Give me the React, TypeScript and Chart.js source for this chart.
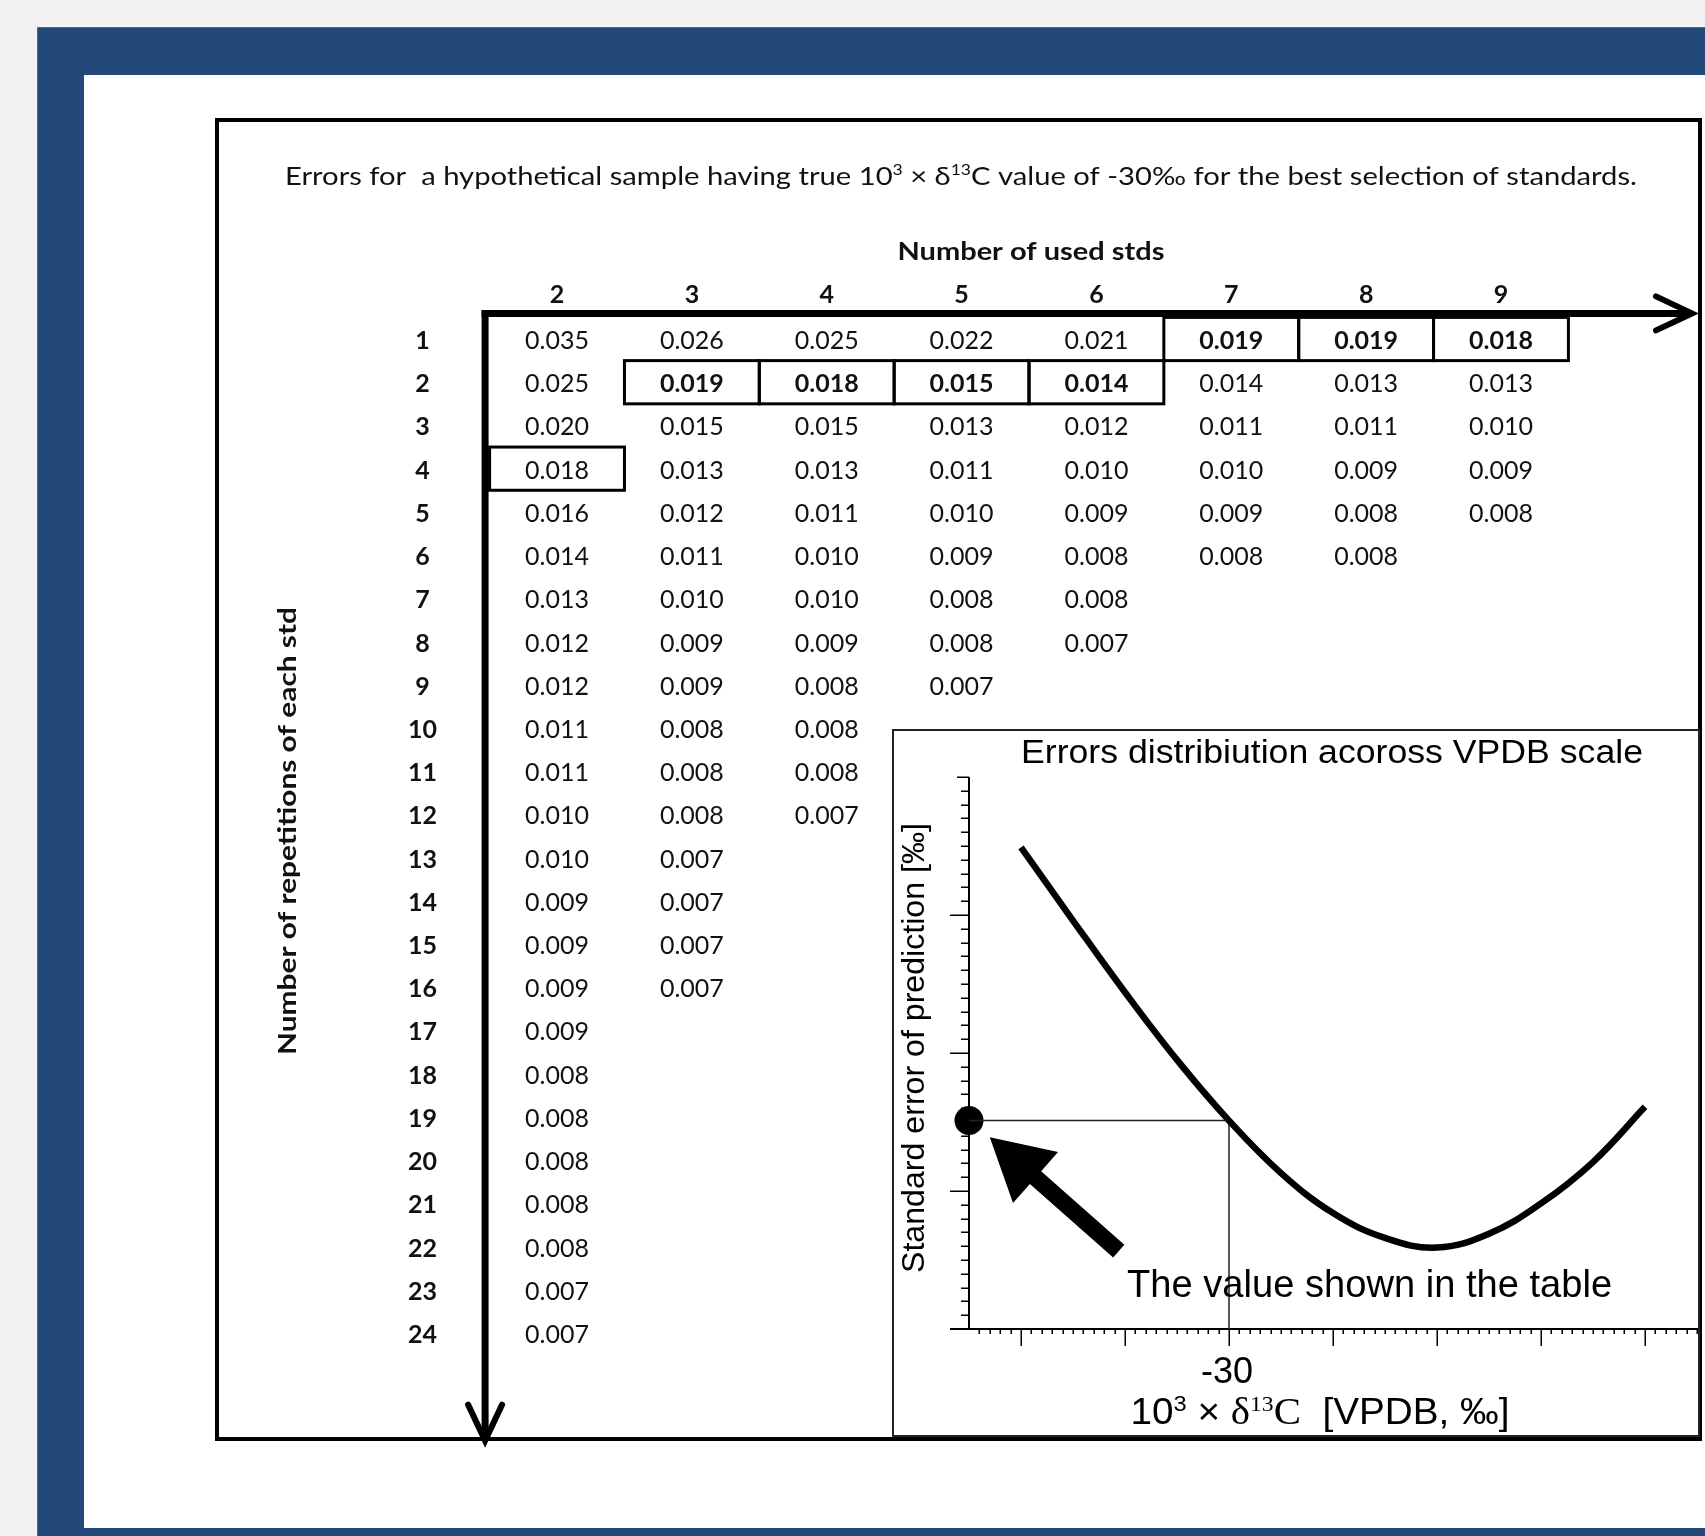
import React, { useEffect, useRef } from "react";
import { Chart, registerables } from "chart.js";

Chart.register(...registerables);

// ---------------- Table data ----------------
const stdCounts = [2, 3, 4, 5, 6, 7, 8, 9];
const repetitions = [1, 2, 3, 4, 5, 6, 7, 8, 9, 10, 11, 12, 13, 14, 15, 16, 17, 18, 19, 20, 21, 22, 23, 24];
const errors2 = [0.035, 0.025, 0.020, 0.018, 0.016, 0.014, 0.013, 0.012, 0.012, 0.011, 0.011, 0.010, 0.010, 0.009, 0.009, 0.009, 0.009, 0.008, 0.008, 0.008, 0.008, 0.008, 0.007, 0.007];
const errors3 = [0.026, 0.019, 0.015, 0.013, 0.012, 0.011, 0.010, 0.009, 0.009, 0.008, 0.008, 0.008, 0.007, 0.007, 0.007, 0.007];
const errors4 = [0.025, 0.018, 0.015, 0.013, 0.011, 0.010, 0.010, 0.009, 0.008, 0.008, 0.008, 0.007];
const errors5 = [0.022, 0.015, 0.013, 0.011, 0.010, 0.009, 0.008, 0.008, 0.007];
const errors6 = [0.021, 0.014, 0.012, 0.010, 0.009, 0.008, 0.008, 0.007];
const errors7 = [0.019, 0.014, 0.011, 0.010, 0.009, 0.008];
const errors8 = [0.019, 0.013, 0.011, 0.009, 0.008, 0.008];
const errors9 = [0.018, 0.013, 0.010, 0.009, 0.008];
const errorColumns = [errors2, errors3, errors4, errors5, errors6, errors7, errors8, errors9];
// best selection of standards: [number of stds, repetitions] -> bold + boxed
const bestCells = [[7, 1], [8, 1], [9, 1], [3, 2], [4, 2], [5, 2], [6, 2]];
// boxed only
const markedCells = [[2, 4]];

// ---------------- Inset data ----------------
const vpdbValues = [-50, -45, -40, -35, -30, -25, -20, -15, -10, -5, 0, 5, 10];
const predictionErrors = [3.49, 2.96, 2.44, 1.95, 1.51, 1.13, 0.84, 0.66, 0.59, 0.69, 0.91, 1.21, 1.61];
const sampleValue = -30;
const labelledXTicks = [-30];

const TABLE_TITLE_A = "Errors for  a hypothetical sample having true 10";
const TABLE_TITLE_B = "C value of -30‰ for the best selection of standards.";
const INSET_TITLE = "Errors distribiution acoross VPDB scale";
const INSET_Y_TITLE = "Standard error of prediction [‰]";
const INSET_NOTE = "The value shown in the table";

const LATO = "Lato, 'Noto Sans', sans-serif";
const SANS = "'Liberation Sans', Arial, sans-serif";
const SERIF = "'Liberation Serif', 'Times New Roman', serif";
const INK = "#111111";

type Seg = { t: string; f: string; dy?: number };

function drawRich(ctx: CanvasRenderingContext2D, segs: Seg[], x: number, y: number, align: "left" | "center", targetW?: number) {
  let w = 0;
  for (const s of segs) {
    ctx.font = s.f;
    w += ctx.measureText(s.t).width;
  }
  const sx = targetW ? targetW / w : 1;
  ctx.save();
  ctx.translate(x, y);
  ctx.scale(sx, 1);
  ctx.textAlign = "left";
  ctx.textBaseline = "alphabetic";
  let cx = align === "center" ? -w / 2 : 0;
  for (const s of segs) {
    ctx.font = s.f;
    ctx.fillText(s.t, cx, s.dy || 0);
    cx += ctx.measureText(s.t).width;
  }
  ctx.restore();
}

const tablePlugin = {
  id: "tableDecor",
  afterDatasetsDraw(chart: any) {
    const { ctx, chartArea: a, scales } = chart;
    const px = (c: number) => scales.x.getPixelForValue(c);
    const py = (r: number) => scales.y.getPixelForValue(r);
    ctx.save();
    ctx.fillStyle = INK;

    // title
    drawRich(
      ctx,
      [
        { t: TABLE_TITLE_A, f: `25px ${LATO}` },
        { t: "3", f: `15px ${LATO}`, dy: -10 },
        { t: " × δ", f: `25px ${LATO}` },
        { t: "13", f: `15px ${LATO}`, dy: -10 },
        { t: TABLE_TITLE_B, f: `25px ${LATO}` },
      ],
      285, 185, "left", 1352
    );

    // column header
    drawRich(ctx, [{ t: "Number of used stds", f: `bold 25px ${LATO}` }], px(5.5) + 2, 260, "center", 267);
    stdCounts.forEach((c) => drawRich(ctx, [{ t: String(c), f: `bold 25px ${LATO}` }], px(c), 303, "center"));
    repetitions.forEach((r) => drawRich(ctx, [{ t: String(r), f: `bold 25px ${LATO}` }], a.left - 67, py(r) + 10, "center"));

    // rotated row header
    ctx.save();
    ctx.translate(296, 831);
    ctx.rotate(-Math.PI / 2);
    drawRich(ctx, [{ t: "Number of repetitions of each std", f: `bold 25px ${LATO}` }], 0, 0, "center", 448);
    ctx.restore();

    // cell values
    chart.data.datasets.forEach((ds: any, di: number) => {
      const meta = chart.getDatasetMeta(di);
      meta.data.forEach((pt: any, i: number) => {
        const raw = ds.data[i];
        const bold = bestCells.some(([c, r]) => c === raw.x && r === raw.y);
        drawRich(ctx, [{ t: raw.v.toFixed(3), f: `${bold ? "bold " : ""}25px ${LATO}` }], pt.x, pt.y + 10, "center");
      });
    });

    // boxes
    ctx.strokeStyle = "#000";
    ctx.lineWidth = 3;
    [...bestCells, ...markedCells].forEach(([c, r]) => {
      const x0 = px(c - 0.5), x1 = px(c + 0.5), y0 = py(r - 0.5), y1 = py(r + 0.5);
      ctx.strokeRect(x0, y0, x1 - x0, y1 - y0);
    });

    // axis arrows
    const hy = a.top - 4;
    const vx = a.left - 4.5;
    const tipX = a.right + 123.6;
    const tipY = a.bottom + 86;
    ctx.lineWidth = 7;
    ctx.lineCap = "butt";
    ctx.beginPath();
    ctx.moveTo(vx - 3.5, hy);
    ctx.lineTo(tipX - 3, hy);
    ctx.stroke();
    ctx.beginPath();
    ctx.moveTo(vx, hy - 3.5);
    ctx.lineTo(vx, tipY - 3);
    ctx.stroke();
    ctx.lineWidth = 6;
    ctx.lineCap = "round";
    ctx.lineJoin = "miter";
    ctx.beginPath();
    ctx.moveTo(tipX - 36, hy - 17);
    ctx.lineTo(tipX, hy);
    ctx.lineTo(tipX - 36, hy + 17);
    ctx.stroke();
    ctx.beginPath();
    ctx.moveTo(vx - 17, tipY - 36);
    ctx.lineTo(vx, tipY);
    ctx.lineTo(vx + 17, tipY - 36);
    ctx.stroke();
    ctx.restore();
  },
};

const insetPlugin = {
  id: "insetDecor",
  beforeDraw(chart: any) {
    const { ctx, width, height } = chart;
    ctx.save();
    ctx.fillStyle = "#fff";
    ctx.fillRect(0, 0, width, height);
    ctx.strokeStyle = "#222";
    ctx.lineWidth = 2;
    ctx.strokeRect(1, 1, width - 2, height - 2);
    ctx.restore();
  },
  beforeDatasetsDraw(chart: any) {
    const { ctx, chartArea: a, scales, width } = chart;
    const xs = scales.x, ys = scales.y;
    ctx.save();
    ctx.strokeStyle = "#000";
    // axes
    ctx.lineWidth = 2;
    ctx.beginPath();
    ctx.moveTo(a.left, a.top);
    ctx.lineTo(a.left, a.bottom);
    ctx.moveTo(a.left - 19, a.bottom);
    ctx.lineTo(width - 2, a.bottom);
    ctx.stroke();
    // y ticks
    ctx.lineWidth = 1.5;
    ctx.beginPath();
    for (let k = 1; k <= 40; k++) {
      const y = Math.round(ys.getPixelForValue(k / 10)) + 0.25;
      const len = k === 40 ? 12 : k % 10 === 0 ? 19 : 8;
      ctx.moveTo(a.left, y);
      ctx.lineTo(a.left - len, y);
    }
    // x ticks
    for (let k = Math.ceil(xs.min) + 1; k <= xs.max; k++) {
      const x = Math.round(xs.getPixelForValue(k)) + 0.25;
      const len = k % 10 === 0 ? 17 : 5;
      ctx.moveTo(x, a.bottom);
      ctx.lineTo(x, a.bottom + len);
    }
    ctx.stroke();
    ctx.restore();
  },
  afterDraw(chart: any) {
    const { ctx, chartArea: a, scales } = chart;
    const xs = scales.x, ys = scales.y;
    ctx.save();
    ctx.fillStyle = "#000";

    drawRich(ctx, [{ t: INSET_TITLE, f: `33px ${SANS}` }], 440, 34, "center", 622);

    ctx.save();
    ctx.translate(31.5, 319);
    ctx.rotate(-Math.PI / 2);
    drawRich(ctx, [{ t: INSET_Y_TITLE, f: `31px ${SANS}` }], 0, 0, "center", 450);
    ctx.restore();

    labelledXTicks.forEach((v) => {
      drawRich(ctx, [{ t: String(v), f: `36px ${SANS}` }], xs.getPixelForValue(v) - 2, a.bottom + 54, "center");
    });

    drawRich(
      ctx,
      [
        { t: "10", f: `36px ${SANS}` },
        { t: "3", f: `22px ${SANS}`, dy: -13 },
        { t: " × ", f: `36px ${SANS}` },
        { t: "δ", f: `38px ${SERIF}` },
        { t: "13", f: `22px ${SERIF}`, dy: -13 },
        { t: "C", f: `38px ${SERIF}` },
        { t: "  [VPDB, ‰]", f: `36px ${SANS}` },
      ],
      428, 695, "center", 379
    );

    // pointer arrow (in data units)
    const T = { x: xs.getPixelForValue(-53.0), y: ys.getPixelForValue(1.39) };
    const B = { x: xs.getPixelForValue(-40.6), y: ys.getPixelForValue(0.565) };
    const dx = T.x - B.x, dy = T.y - B.y;
    const len = Math.hypot(dx, dy);
    const ux = dx / len, uy = dy / len;
    const nx = -uy, ny = ux;
    const headL = 61, headW = 34, shaftW = 8.5;
    const H = { x: T.x - ux * headL, y: T.y - uy * headL };
    ctx.beginPath();
    ctx.moveTo(B.x + nx * shaftW, B.y + ny * shaftW);
    ctx.lineTo(H.x + nx * shaftW, H.y + ny * shaftW);
    ctx.lineTo(H.x + nx * headW, H.y + ny * headW);
    ctx.lineTo(T.x, T.y);
    ctx.lineTo(H.x - nx * headW, H.y - ny * headW);
    ctx.lineTo(H.x - nx * shaftW, H.y - ny * shaftW);
    ctx.lineTo(B.x - nx * shaftW, B.y - ny * shaftW);
    ctx.closePath();
    ctx.fill();

    drawRich(ctx, [{ t: INSET_NOTE, f: `39px ${SANS}` }], xs.getPixelForValue(-39.8), ys.getPixelForValue(0.232), "left", 485);
    ctx.restore();
  },
};

export default function App() {
  const tableRef = useRef<HTMLCanvasElement>(null);
  const insetRef = useRef<HTMLCanvasElement>(null);

  useEffect(() => {
    const tableChart = new Chart(tableRef.current as HTMLCanvasElement, {
      type: "scatter",
      data: {
        datasets: stdCounts.map((c, ci) => ({
          data: errorColumns[ci].map((v, ri) => ({ x: c, y: repetitions[ri], v })),
          pointRadius: 0,
          showLine: false,
          borderWidth: 0,
        })),
      },
      options: {
        animation: false,
        responsive: false,
        devicePixelRatio: 1,
        events: [],
        layout: { autoPadding: false, padding: { left: 489.6, right: 136.6, top: 317.4, bottom: 181.4 } },
        scales: {
          x: { type: "linear", min: 1.5, max: 9.5, display: false },
          y: { type: "linear", min: 0.5, max: 24.5, reverse: true, display: false },
        },
        plugins: { legend: { display: false }, tooltip: { enabled: false } },
      } as any,
      plugins: [tablePlugin as any],
    });

    const sampleErr = predictionErrors[vpdbValues.indexOf(sampleValue)];
    const insetChart = new Chart(insetRef.current as HTMLCanvasElement, {
      type: "scatter",
      data: {
        datasets: [
          {
            data: vpdbValues.map((x, i) => ({ x, y: predictionErrors[i] })),
            showLine: true,
            borderColor: "#000",
            borderWidth: 6.5,
            pointRadius: 0,
            tension: 0.4,
          },
          {
            data: [
              { x: -55, y: sampleErr },
              { x: sampleValue, y: sampleErr },
              { x: sampleValue, y: 0 },
            ],
            showLine: true,
            borderColor: "#222",
            borderWidth: 1.5,
            pointRadius: 0,
            tension: 0,
          },
          {
            data: [{ x: -55, y: sampleErr }],
            showLine: false,
            pointRadius: 14.5,
            pointBackgroundColor: "#000",
            pointBorderWidth: 0,
            clip: false,
          },
        ],
      } as any,
      options: {
        animation: false,
        responsive: false,
        devicePixelRatio: 1,
        events: [],
        layout: { autoPadding: false, padding: { left: 77, right: 3, top: 48, bottom: 108 } },
        scales: {
          x: { type: "linear", min: -55, max: 15, display: false },
          y: { type: "linear", min: 0, max: 4, display: false },
        },
        plugins: { legend: { display: false }, tooltip: { enabled: false } },
      } as any,
      plugins: [insetPlugin as any],
    });

    return () => {
      tableChart.destroy();
      insetChart.destroy();
    };
  }, []);

  return (
    <div style={{ position: "absolute", left: 0, top: 0, width: 1705, height: 1536, background: "#f2f2f2", overflow: "hidden" }}>
      <div
        style={{
          position: "absolute", left: 37, top: 27, width: 1705 - 37, height: 1536 - 27,
          background: "#22497a", borderTop: "1px solid #4a6c98", borderLeft: "1px solid #4a6c98", boxSizing: "border-box",
        }}
      />
      <div style={{ position: "absolute", left: 84, top: 75, width: 1705 - 84, height: 1528 - 75, background: "#ffffff" }} />
      <div style={{ position: "absolute", left: 215, top: 118, width: 1487, height: 1323, border: "4px solid #000", boxSizing: "border-box" }} />
      <canvas ref={tableRef} width={1705} height={1536} style={{ position: "absolute", left: 0, top: 0, width: 1705, height: 1536 }} />
      <div style={{ position: "absolute", left: 892, top: 729, width: 808, height: 708, background: "#fff" }}>
        <canvas ref={insetRef} width={808} height={708} style={{ position: "absolute", left: 0, top: 0, width: 808, height: 708 }} />
      </div>
    </div>
  );
}
